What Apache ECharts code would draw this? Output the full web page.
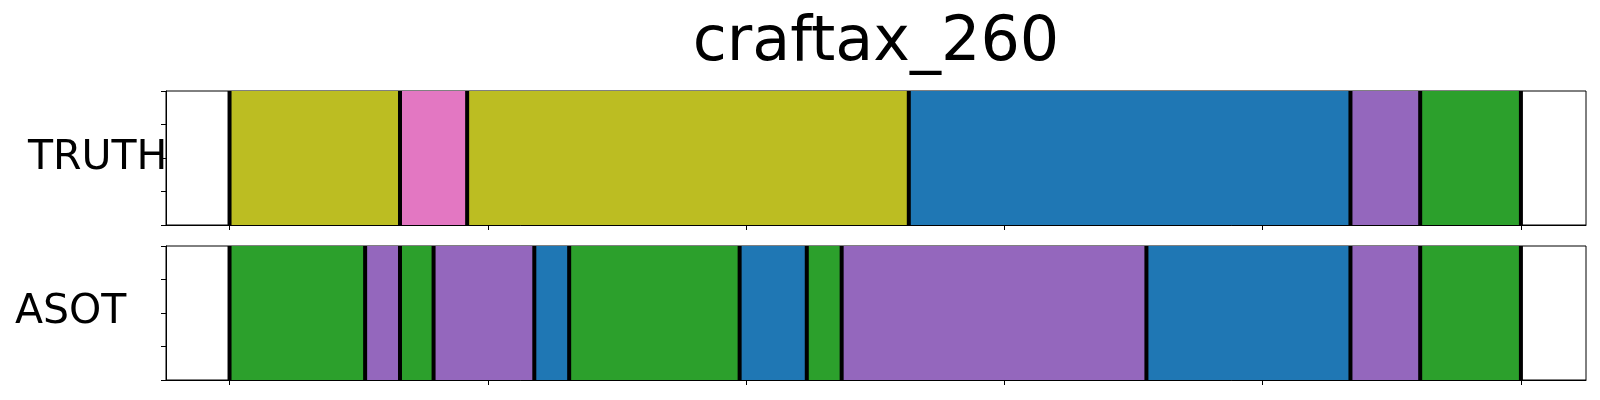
<!DOCTYPE html>
<html>
<head>
<meta charset="utf-8">
<script src="https://cdn.jsdelivr.net/npm/echarts@6/dist/echarts.min.js"></script>
<style>html,body{margin:0;padding:0;background:#fff}#c{width:1600px;height:400px}</style>
</head>
<body>
<div id="c"></div>
<script>
// ---- data ----
const title = 'craftax_260';
const rowNames = ['TRUTH', 'ASOT'];
const xTicks = [0, 100, 200, 300, 400, 500];
// segment boundaries (frames) and class index per segment
const truthBounds = [0, 66, 92, 263, 434, 461, 500];
const truthClasses = [8, 6, 8, 0, 4, 2];
const asotBounds = [0, 52.5, 66, 79, 118, 131.5, 197.5, 223.5, 237, 355, 434, 461, 500];
const asotClasses = [2, 4, 2, 4, 0, 2, 0, 2, 4, 0, 4, 2];
// tab10 palette
const palette = ['#1f77b4', '#ff7f0e', '#2ca02c', '#d62728', '#9467bd', '#8c564b', '#e377c2', '#7f7f7f', '#bcbd22', '#17becf'];

const FONT = 'DejaVu Sans';
const chart = echarts.init(document.getElementById('c'), null, {renderer: 'canvas'});

function segData(bounds, classes) {
  const out = [];
  for (let i = 0; i < classes.length; i++) out.push([bounds[i], bounds[i + 1], classes[i]]);
  return out;
}

const grids = [
  {left: 166, width: 1420, top: 91, height: 134},
  {left: 166, width: 1420, top: 246, height: 134}
].map(g => Object.assign(g, {show: true, borderColor: '#000', borderWidth: 1, backgroundColor: 'transparent'}));

const xAxes = [0, 1].map(i => ({
  type: 'value', gridIndex: i, min: -24.6, max: 525.2,
  splitLine: {show: false},
  axisLine: {show: true, onZero: false, lineStyle: {color: '#000', width: 1}},
  axisTick: {show: true, inside: false, length: 5, customValues: xTicks, lineStyle: {color: '#000', width: 1}},
  axisLabel: {show: false}
}));
const yAxes = [0, 1].map(i => ({
  type: 'value', gridIndex: i, min: 0, max: 1, interval: 0.25,
  splitLine: {show: false},
  axisLine: {show: true, onZero: false, lineStyle: {color: '#000', width: 1}},
  axisTick: {show: true, inside: false, length: 5, lineStyle: {color: '#000', width: 1}},
  axisLabel: {show: false}
}));

function segSeries(i, data) {
  return {
    type: 'custom', xAxisIndex: i, yAxisIndex: i, z: 2,
    data: data,
    encode: {x: [0, 1]},
    renderItem: function (params, api) {
      const p0 = api.coord([api.value(0), 1]);
      const p1 = api.coord([api.value(1), 0]);
      return {
        type: 'rect',
        shape: {x: p0[0], y: p0[1], width: p1[0] - p0[0], height: p1[1] - p0[1]},
        style: {fill: palette[api.value(2)]}
      };
    }
  };
}
function lineSeries(i, bounds) {
  return {
    type: 'custom', xAxisIndex: i, yAxisIndex: i, z: 3,
    data: bounds.map(b => [b]),
    encode: {x: 0},
    renderItem: function (params, api) {
      const p0 = api.coord([api.value(0), 1]);
      const p1 = api.coord([api.value(0), 0]);
      return {
        type: 'line',
        shape: {x1: p0[0], y1: p0[1], x2: p1[0], y2: p1[1]},
        style: {stroke: '#000', lineWidth: 4}
      };
    }
  };
}

chart.setOption({
  animation: false,
  backgroundColor: '#fff',
  grid: grids,
  xAxis: xAxes,
  yAxis: yAxes,
  series: [
    segSeries(0, segData(truthBounds, truthClasses)),
    lineSeries(0, truthBounds),
    segSeries(1, segData(asotBounds, asotClasses)),
    lineSeries(1, asotBounds)
  ],
  graphic: [
    {type: 'text', x: 876, y: 44, z: 10, style: {text: title, font: '62px "' + FONT + '"', fill: '#000', align: 'center', verticalAlign: 'middle'}},
    {type: 'text', x: 28, y: 158, z: 10, style: {text: rowNames[0], font: '41px "' + FONT + '"', fill: '#000', verticalAlign: 'middle', align: 'left'}},
    {type: 'text', x: 15, y: 312, z: 10, style: {text: rowNames[1], font: '41px "' + FONT + '"', fill: '#000', verticalAlign: 'middle', align: 'left'}}
  ]
});
</script>
</body>
</html>
